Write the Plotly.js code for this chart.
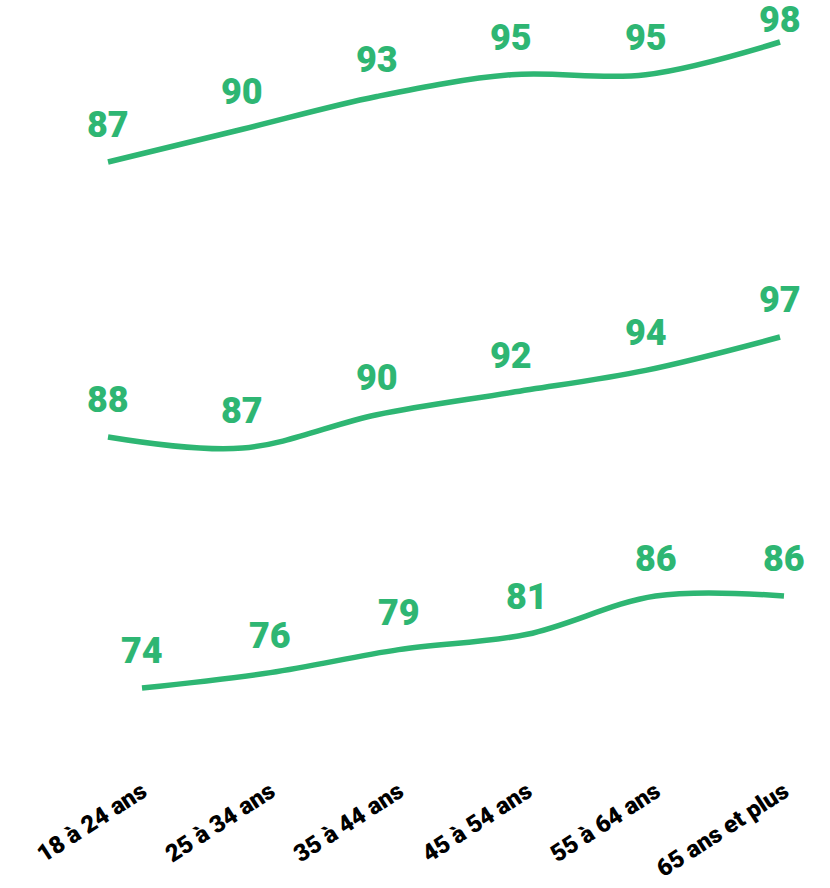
<!DOCTYPE html>
<html>
<head>
<meta charset="utf-8">
<script src="https://cdn.plot.ly/plotly-3.0.1.min.js"></script>
<style>html,body{margin:0;padding:0;background:#fff}#chart{width:830px;height:888px}</style>
</head>
<body>
<div id="chart"></div>
<script>
const categories = ["18 à 24 ans", "25 à 34 ans", "35 à 44 ans", "45 à 54 ans", "55 à 64 ans", "65 ans et plus"];
const seriesTop = [87, 90, 93, 95, 95, 98];
const seriesMiddle = [88, 87, 90, 92, 94, 97];
const seriesBottom = [74, 76, 79, 81, 86, 86];

const green = "#2eb673";
const plotH = 772;
const yRanges = {y: [31.08, 101.85], y2: [57.85, 127.33], y3: [63.04, 163.74]};

function trace(vals, xa, ya) {
  return {
    x: categories, y: vals, xaxis: xa, yaxis: ya,
    type: "scatter", mode: "lines",
    line: {color: green, width: 5.5, shape: "spline", smoothing: 1},
    hoverinfo: "skip"
  };
}

const data = [
  trace(seriesTop, "x", "y"),
  trace(seriesMiddle, "x", "y2"),
  trace(seriesBottom, "x2", "y3")
];

const annotations = [];
function addLabels(vals, xa, ya) {
  const r = yRanges[ya];
  vals.forEach((v, i) => {
    const px = (r[1] - v) / (r[1] - r[0]) * plotH;
    const shift = Math.min(37, px - 20);
    annotations.push({
      x: categories[i], y: v, xref: xa, yref: ya,
      text: String(v), showarrow: false, yshift: shift,
      font: {family: "Roboto, sans-serif", size: 36, color: green, weight: 900}
    });
  });
}
addLabels(seriesTop, "x", "y");
addLabels(seriesMiddle, "x", "y2");
addLabels(seriesBottom, "x2", "y3");

const hidden = {showgrid: false, zeroline: false, showline: false, showticklabels: false, ticks: ""};

const layout = {
  width: 830, height: 888,
  margin: {l: 0, r: 0, t: 0, b: 116, pad: 0},
  paper_bgcolor: "#fff", plot_bgcolor: "#fff",
  showlegend: false,
  xaxis: Object.assign({}, hidden, {type: "category", range: [-0.8036, 5.372], anchor: "y"}),
  xaxis2: Object.assign({}, hidden, {
    type: "category", range: [-1.1059, 5.3583], anchor: "y3", overlaying: "x",
    showticklabels: true, tickangle: -33,
    tickfont: {family: "Roboto, sans-serif", size: 24, color: "#000", weight: 900}
  }),
  yaxis: Object.assign({}, hidden, {range: yRanges.y}),
  yaxis2: Object.assign({}, hidden, {range: yRanges.y2, overlaying: "y"}),
  yaxis3: Object.assign({}, hidden, {range: yRanges.y3, overlaying: "y"}),
  annotations: annotations
};

Plotly.newPlot("chart", data, layout, {displayModeBar: false, staticPlot: true});
</script>
</body>
</html>
